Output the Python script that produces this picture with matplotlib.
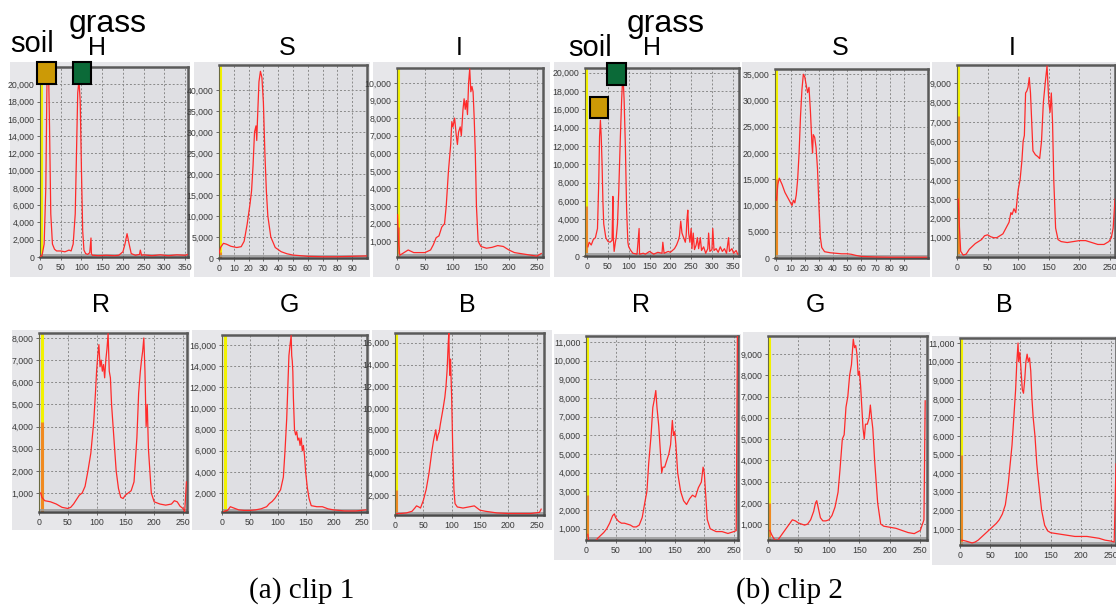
import matplotlib
matplotlib.use("Agg")
import matplotlib.pyplot as plt
from matplotlib.patches import Rectangle
from matplotlib.ticker import FuncFormatter

W, H = 1116, 612

# ---------------- data ----------------
# clip 1
c1_h_x = [0, 5, 10, 14, 17, 20, 23, 26, 30, 35, 40, 50, 60, 70, 75, 80, 85, 88, 91, 94, 97, 100, 103, 106,
          110, 115, 120, 123, 124, 126, 130, 140, 160, 180, 190, 200, 205, 210, 215, 220, 230, 240, 242, 245,
          250, 270, 290, 310, 330, 350, 357]
c1_h_y = [0, 200, 1500, 8000, 21000, 23500, 15000, 5000, 1500, 900, 700, 700, 600, 800, 700, 1500, 5000,
          12000, 19000, 20500, 18000, 10000, 3000, 800, 400, 300, 500, 2200, 400, 200, 200, 150, 200, 150,
          200, 600, 1500, 2700, 1500, 400, 200, 300, 800, 200, 250, 150, 250, 150, 250, 200, 300]

c1_s_x = [0, 1, 3, 5, 8, 12, 15, 17, 19, 21, 22, 23, 24, 25, 25.5, 26, 27, 28, 29, 30, 31, 32, 33, 35, 38,
          42, 46, 50, 60, 70, 80, 90, 100]
c1_s_y = [1000, 2500, 3500, 3300, 2800, 2500, 2700, 4000, 8000, 13000, 16000, 22000, 30000, 31500, 28000,
          33000, 42000, 44500, 43000, 37000, 25000, 16000, 10000, 5000, 2500, 1500, 1000, 700, 400, 300,
          300, 400, 500]

c1_i_x = [1, 3, 5, 10, 20, 30, 40, 50, 60, 65, 70, 75, 80, 85, 88, 92, 96, 98, 100, 103, 106, 108, 110, 113,
          115, 118, 120, 122, 124, 126, 128, 130, 132, 134, 136, 138, 140, 142, 145, 150, 160, 170, 180, 190,
          200, 210, 220, 230, 240, 250, 258]
c1_i_y = [2500, 800, 200, 300, 500, 350, 350, 350, 500, 800, 1200, 1300, 1800, 2000, 3000, 5000, 6500,
          7800, 7500, 8000, 7000, 6500, 7200, 7500, 7000, 8500, 9100, 8500, 9000, 8200, 10000, 10800, 9500,
          9800, 9500, 8000, 6000, 3000, 1000, 700, 600, 650, 750, 700, 500, 350, 300, 250, 200, 150, 300]

c1_r_x = [3, 5, 10, 20, 30, 40, 50, 55, 60, 65, 70, 75, 80, 85, 90, 95, 98, 100, 102, 104, 106, 108, 110,
          112, 114, 116, 118, 120, 122, 124, 126, 130, 134, 138, 142, 146, 150, 155, 160, 165, 170, 173,
          176, 178, 180, 182, 184, 186, 188, 190, 195, 200, 210, 220, 230, 235, 240, 245, 250, 253, 256]
c1_r_y = [1000, 800, 650, 600, 500, 350, 300, 350, 500, 700, 900, 1000, 1300, 2000, 2800, 4200, 5500,
          6500, 7200, 7700, 6700, 7000, 6500, 6800, 6200, 7000, 7500, 8200, 6500, 6200, 5000, 3500, 2000,
          1200, 800, 750, 900, 1000, 1100, 1500, 3500, 5500, 6500, 7000, 7400, 8000, 6500, 4000, 5000,
          3000, 1000, 600, 500, 450, 500, 650, 600, 400, 300, 150, 1500]

c1_g_x = [3, 5, 10, 15, 20, 30, 40, 50, 60, 70, 80, 85, 90, 95, 100, 105, 110, 113, 116, 118, 120, 122,
          124, 125, 126, 127, 128, 130, 132, 134, 136, 138, 140, 142, 144, 146, 148, 150, 153, 156, 160,
          170, 180, 190, 200, 220, 240, 258]
c1_g_y = [200, 300, 350, 700, 600, 400, 350, 350, 400, 500, 700, 1000, 1200, 1500, 1900, 2300, 3500, 6000,
          9000, 12000, 15000, 16000, 16900, 15000, 14500, 13500, 11000, 8000, 7500, 7800, 7000, 7200, 6500,
          7200, 6000, 6500, 5500, 4000, 2500, 1500, 800, 700, 700, 500, 400, 300, 300, 400]

c1_b_x = [3, 10, 20, 30, 35, 38, 42, 45, 50, 55, 60, 65, 68, 70, 72, 74, 76, 78, 80, 85, 88, 90, 92, 94,
          95, 96, 97, 98, 100, 102, 104, 106, 110, 120, 130, 140, 145, 150, 160, 180, 200, 220, 240, 255, 258]
c1_b_y = [300, 300, 350, 500, 800, 1000, 900, 800, 1500, 2500, 4000, 6000, 7000, 7500, 8000, 7000, 7500,
          7800, 8500, 10000, 11000, 12000, 13500, 16000, 16900, 14000, 13000, 14500, 11000, 6000, 2500,
          1200, 900, 800, 900, 1000, 800, 600, 500, 350, 300, 300, 300, 400, 700]

# clip 2
c2_h_x = [2, 5, 10, 15, 20, 25, 28, 30, 32, 34, 36, 38, 40, 45, 50, 55, 60, 62, 63, 65, 68, 70, 73, 76, 80,
          83, 86, 89, 92, 95, 98, 100, 105, 110, 120, 125, 126, 135, 140, 150, 160, 170, 180, 182, 185, 195,
          200, 210, 215, 220, 222, 225, 228, 232, 236, 238, 240, 242, 244, 247, 250, 252, 255, 258, 262,
          265, 268, 272, 275, 280, 285, 290, 292, 295, 300, 302, 305, 310, 315, 320, 325, 330, 335, 340,
          342, 348, 352, 358, 362]
c2_h_y = [1000, 1500, 1200, 1800, 2000, 3000, 8000, 13000, 14800, 13000, 10000, 6000, 3500, 2000, 1600,
          1500, 1700, 6500, 2000, 500, 1500, 2000, 3500, 7000, 13000, 17000, 20000, 17000, 12000, 5000,
          1500, 1000, 600, 300, 200, 3000, 200, 300, 200, 500, 200, 400, 300, 1500, 300, 500, 400, 800,
          1200, 1800, 2200, 3800, 2500, 2000, 1500, 2200, 4000, 5000, 2500, 1500, 3000, 800, 2500, 700,
          1200, 2000, 800, 2000, 600, 1000, 300, 800, 2500, 500, 700, 3000, 600, 800, 400, 1000, 500, 800,
          300, 2000, 500, 800, 300, 600, 200]

c2_s_x = [0, 1, 2, 4, 6, 8, 10, 11, 12, 13, 14, 15, 16, 17, 18, 19, 20, 21, 22, 23, 24, 25, 25.5, 26, 27,
          28, 29, 30, 31, 32, 34, 38, 42, 46, 50, 53, 56, 60, 70, 80, 90, 106]
c2_s_y = [11000, 14000, 15200, 14000, 12500, 11500, 10500, 10000, 11000, 10500, 12000, 15000, 20000, 27000,
          32000, 35000, 34500, 33000, 31500, 32500, 28000, 22000, 20000, 23500, 23000, 21000, 17000, 10000,
          4000, 2000, 1200, 1000, 900, 800, 800, 700, 500, 300, 200, 150, 150, 150]

c2_i_x = [2, 4, 6, 10, 15, 20, 25, 30, 35, 40, 45, 50, 55, 60, 65, 70, 75, 80, 85, 88, 90, 93, 96, 100, 103,
          106, 108, 110, 112, 114, 116, 118, 120, 122, 124, 128, 132, 135, 138, 141, 144, 147, 150, 152,
          154, 156, 158, 161, 165, 170, 180, 190, 200, 210, 220, 230, 240, 248, 252, 255, 258]
c2_i_y = [3000, 1500, 300, 100, 150, 400, 550, 700, 800, 900, 1100, 1150, 1050, 1000, 1000, 1100, 1200,
          1500, 1800, 2300, 2200, 2500, 2300, 3500, 4000, 5000, 6000, 6300, 8500, 8600, 8800, 9300, 8500,
          7000, 5500, 5300, 5200, 5100, 6000, 8000, 9000, 9900, 8000, 7500, 8500, 7000, 4000, 1500, 900,
          800, 750, 800, 850, 850, 750, 650, 650, 800, 1000, 1500, 3000]

c2_r_x = [3, 5, 10, 15, 20, 30, 35, 40, 45, 48, 50, 55, 60, 65, 70, 75, 80, 85, 90, 95, 100, 103, 106, 110,
          113, 116, 118, 120, 123, 126, 128, 130, 133, 136, 140, 143, 146, 148, 150, 152, 155, 160, 165,
          170, 175, 180, 185, 190, 195, 198, 200, 202, 205, 210, 220, 230, 240, 250, 254, 256]
c2_r_y = [700, 300, 200, 300, 500, 800, 1000, 1300, 1700, 1800, 1600, 1400, 1300, 1300, 1250, 1200, 1100,
          1100, 1200, 1600, 2500, 3000, 4500, 6000, 7500, 8000, 8400, 7500, 6500, 5000, 4000, 4300, 4300,
          4600, 5000, 5500, 6800, 6000, 6200, 5500, 4000, 3000, 2500, 2300, 2600, 2800, 2700, 3200, 3500,
          4300, 4000, 3000, 1500, 1000, 850, 850, 750, 850, 900, 11500]

c2_g_x = [3, 6, 10, 15, 20, 25, 30, 35, 40, 45, 50, 55, 60, 65, 70, 75, 78, 80, 83, 86, 90, 95, 100, 105,
          110, 115, 118, 122, 125, 128, 131, 134, 137, 140, 142, 144, 146, 148, 150, 152, 154, 156, 158,
          160, 163, 166, 168, 170, 172, 175, 180, 185, 190, 200, 210, 220, 230, 240, 250, 256, 258]
c2_g_y = [700, 500, 300, 200, 400, 600, 800, 1000, 1200, 1150, 1050, 1000, 950, 1000, 1200, 1600, 2000,
          2100, 1700, 1300, 1150, 1150, 1200, 1400, 1800, 2500, 3500, 5000, 5200, 6500, 7000, 8000, 8500,
          9700, 9300, 9400, 9000, 8000, 8200, 7500, 6500, 5500, 5000, 5700, 5700, 6000, 6600, 6000, 5500,
          4000, 2000, 1000, 900, 850, 800, 700, 600, 550, 700, 1200, 6800]

c2_b_x = [3, 10, 15, 20, 25, 30, 35, 40, 45, 50, 55, 60, 65, 70, 75, 78, 80, 83, 86, 88, 90, 92, 94, 96,
          97, 99, 101, 103, 105, 107, 109, 111, 113, 115, 117, 119, 121, 124, 127, 130, 135, 140, 145, 150,
          160, 170, 180, 190, 200, 210, 220, 230, 240, 250, 255, 258]
c2_b_y = [400, 350, 300, 250, 300, 400, 550, 700, 850, 1000, 1150, 1300, 1500, 1800, 2300, 3000, 3500,
          4500, 5500, 6500, 7500, 8500, 10000, 11000, 10000, 10500, 9500, 8500, 8300, 9000, 10000, 10400,
          10000, 10200, 9500, 8000, 7000, 6000, 4500, 3500, 2000, 1200, 900, 800, 750, 700, 650, 600, 600,
          600, 550, 500, 400, 350, 300, 4500]

# first-bin (x = 0) heights drawn as orange bar on the left edge
zero_bins = {"c1_h": 400, "c1_s": 1500, "c1_i": 1800, "c1_r": 4200, "c1_g": 300, "c1_b": 2500,
             "c2_h": 5500, "c2_s": 15000, "c2_i": 7300, "c2_r": 2800, "c2_g": 2000, "c2_b": 5000}

titles_top = ["H", "S", "I"]
titles_bottom = ["R", "G", "B"]
captions = ["(a) clip 1", "(b) clip 2"]
marker_labels = ["soil", "grass"]

# ---------------- layout ----------------
TICKFONT = ["Liberation Sans Narrow", "Liberation Sans"]
panels = [
    ("c1_h", c1_h_x, c1_h_y, (40, 67, 188, 257), (0, 357), (0, 22000), range(0, 351, 50), range(0, 20001, 2000), (10, 62, 190, 277)),
    ("c1_s", c1_s_x, c1_s_y, (219, 65, 367, 258), (0, 100), (0, 46000), range(0, 91, 10), range(0, 40001, 5000), (194, 62, 370, 277)),
    ("c1_i", c1_i_x, c1_i_y, (397, 68, 543, 257), (0, 261), (100, 10850), range(0, 251, 50), range(1000, 10001, 1000), (373, 62, 550, 277)),
    ("c1_r", c1_r_x, c1_r_y, (39, 333, 187, 512), (3, 257), (140, 8225), range(0, 251, 50), range(1000, 8001, 1000), (12, 330, 190, 530)),
    ("c1_g", c1_g_x, c1_g_y, (222, 335, 367, 512), (3, 260), (200, 16950), range(0, 251, 50), range(2000, 16001, 2000), (192, 330, 370, 530)),
    ("c1_b", c1_b_x, c1_b_y, (395, 333, 544, 515), (0, 263), (160, 16900), range(0, 251, 50), range(2000, 16001, 2000), (372, 330, 552, 530)),
    ("c2_h", c2_h_x, c2_h_y, (585, 68, 739, 256), (-5, 365), (0, 20500), range(0, 351, 50), range(0, 20001, 2000), (554, 62, 740, 277)),
    ("c2_s", c2_s_x, c2_s_y, (775, 69, 928, 258), (-1, 107), (0, 36000), range(0, 91, 10), range(0, 35001, 5000), (742, 62, 930, 277)),
    ("c2_i", c2_i_x, c2_i_y, (957, 65, 1115, 257), (0, 258), (0, 9950), range(0, 251, 50), range(1000, 9001, 1000), (932, 62, 1116, 277)),
    ("c2_r", c2_r_x, c2_r_y, (586, 336, 738, 540), (0, 257), (400, 11320), range(0, 251, 50), range(1000, 11001, 1000), (554, 334, 741, 560)),
    ("c2_g", c2_g_x, c2_g_y, (768, 336, 927, 540), (0, 261), (250, 9850), range(0, 251, 50), range(1000, 9001, 1000), (743, 332, 930, 560)),
    ("c2_b", c2_b_x, c2_b_y, (960, 338, 1116, 545), (0, 258), (140, 11270), range(0, 251, 50), range(1000, 11001, 1000), (932, 336, 1116, 565)),
]

fig = plt.figure(figsize=(W / 100, H / 100), dpi=100)
fig.patch.set_facecolor("white")


def frect(x0, y0, x1, y1):
    return [x0 / W, 1 - y1 / H, (x1 - x0) / W, (y1 - y0) / H]


fmt = FuncFormatter(lambda v, p: f"{int(v):,}")

for key, xs, ys, box, xl, yl, xt, yt, bg in panels:
    bgax = fig.add_axes(frect(*bg), zorder=-5)
    bgax.set_facecolor("#e7e7ea")
    bgax.set_xticks([])
    bgax.set_yticks([])
    for s in bgax.spines.values():
        s.set_visible(False)

    ax = fig.add_axes(frect(*box), zorder=1)
    ax.set_facecolor("#dfdfe3")
    ax.plot(xs, ys, color="#ff2a2a", lw=0.9, zorder=3)
    ax.set_xlim(*xl)
    ax.set_ylim(*yl)
    ax.set_xticks(list(xt))
    ax.set_yticks(list(yt))
    ax.yaxis.set_major_formatter(fmt)
    ax.grid(True, color="#8a8a8a", lw=0.7, linestyle=(0, (2, 2)))
    ax.set_axisbelow(True)
    for lab in ax.get_xticklabels() + ax.get_yticklabels():
        lab.set_fontfamily(TICKFONT)
        lab.set_fontsize(6.3)
        lab.set_color("#3a3a3a")
    ax.tick_params(length=2, width=0.6, color="#555555", pad=2)
    for s in ["top", "right"]:
        ax.spines[s].set_color("#5a5a5a")
        ax.spines[s].set_linewidth(1.8)
    ax.spines["bottom"].set_color("#4a4a4a")
    ax.spines["bottom"].set_linewidth(1.8)
    ax.spines["left"].set_color("#6a6a40")
    ax.spines["left"].set_linewidth(0.8)
    x0 = xl[0] + (xl[1] - xl[0]) * 0.008
    ax.axvline(x0, color="#f2f200", lw=2.2, zorder=2)
    ax.vlines(x0, yl[0], zero_bins[key], color="#f08a20", lw=2.2, zorder=2)
    ax.axhline(yl[0] + (yl[1] - yl[0]) * 0.012, color="#9a9a9a", lw=1.2, zorder=2)

TITLE_FONT = ["Liberation Sans", "DejaVu Sans"]
for xc, t in zip([97, 287, 459], titles_top):
    fig.text(xc / W, 1 - 48 / H, t, ha="center", va="center", fontsize=18, family=TITLE_FONT)
for xc, t in zip([652, 840, 1012], titles_top):
    fig.text(xc / W, 1 - 48 / H, t, ha="center", va="center", fontsize=18, family=TITLE_FONT)
for xc, t in zip([101, 289, 467], titles_bottom):
    fig.text(xc / W, 1 - 305 / H, t, ha="center", va="center", fontsize=18, family=TITLE_FONT)
for xc, t in zip([641, 815, 1004], titles_bottom):
    fig.text(xc / W, 1 - 305 / H, t, ha="center", va="center", fontsize=18, family=TITLE_FONT)

fig.text(32 / W, 1 - 44 / H, marker_labels[0], ha="center", va="center", fontsize=21, family=TITLE_FONT)
fig.text(108 / W, 1 - 24 / H, marker_labels[1], ha="center", va="center", fontsize=23, family=TITLE_FONT)
fig.text(590 / W, 1 - 48 / H, marker_labels[0], ha="center", va="center", fontsize=21, family=TITLE_FONT)
fig.text(666 / W, 1 - 24 / H, marker_labels[1], ha="center", va="center", fontsize=23, family=TITLE_FONT)

for (x0, y0, x1, y1, c) in [(37, 62, 56, 84, "#cc9a06"), (73, 62, 91, 84, "#0b6a38"),
                            (590, 97, 608, 118, "#cc9a06"), (607, 63, 626, 85, "#0b6a38")]:
    b = frect(x0, y0, x1, y1)
    fig.patches.append(Rectangle((b[0], b[1]), b[2], b[3], transform=fig.transFigure,
                                 facecolor=c, edgecolor="black", lw=1.5, zorder=5))

fig.text(302 / W, 1 - 591 / H, captions[0], ha="center", va="center", fontsize=21, family=["Liberation Serif"])
fig.text(789 / W, 1 - 591 / H, captions[1], ha="center", va="center", fontsize=21, family=["Liberation Serif"])

fig.savefig("out.png", dpi=100)
